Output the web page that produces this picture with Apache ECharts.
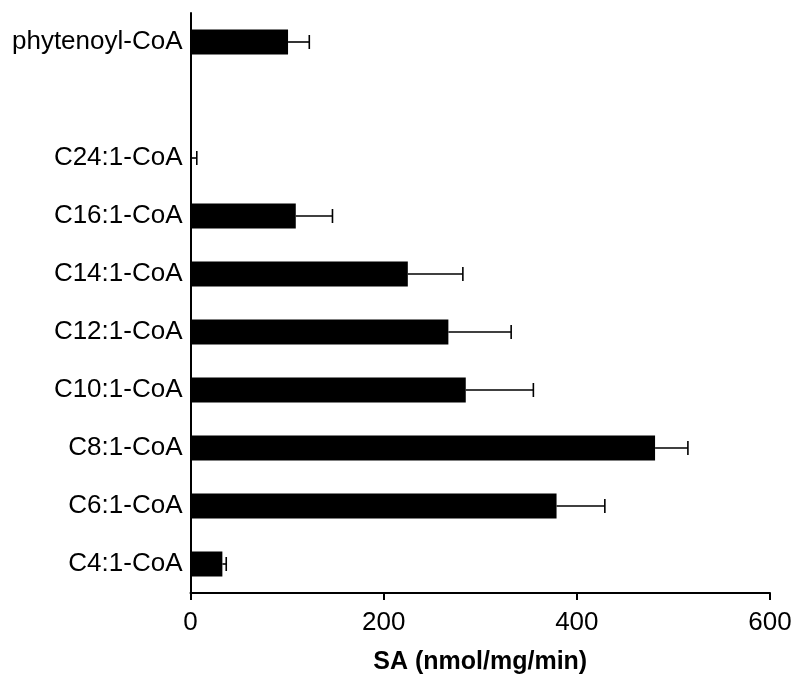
<!DOCTYPE html>
<html>
<head>
<meta charset="utf-8">
<script src="https://cdn.jsdelivr.net/npm/echarts@6/dist/echarts.min.js"></script>
<style>
  html, body { margin: 0; padding: 0; background: #fff; }
  #chart { width: 791px; height: 678px; }
</style>
</head>
<body>
<div id="chart"></div>
<script>
// Substrates, bottom to top; the empty entry leaves a gap below phytenoyl-CoA
const categories = ['C4:1-CoA', 'C6:1-CoA', 'C8:1-CoA', 'C10:1-CoA', 'C12:1-CoA',
                    'C14:1-CoA', 'C16:1-CoA', 'C24:1-CoA', '', 'phytenoyl-CoA'];
// Specific activity (nmol/mg/min) and its standard deviation
const activity = [33, 379, 481, 285, 267, 225, 109, 1, null, 101];
const deviation = [4, 50, 34, 70, 65, 57, 38, 5.5, null, 22];
const xTicks = [0, 200, 400, 600];

const FONT = 'Liberation Sans, Arial, sans-serif';

const errorData = [];
categories.forEach((c, i) => {
  if (activity[i] != null) errorData.push([i, activity[i], deviation[i]]);
});

const chart = echarts.init(document.getElementById('chart'), null, { renderer: 'canvas' });

chart.setOption({
  animation: false,
  backgroundColor: '#ffffff',
  grid: {
    left: 190.5, right: 21, top: 13, bottom: 85,
    containLabel: false,
    outerBoundsMode: 'none'
  },
  xAxis: {
    type: 'value',
    min: xTicks[0],
    max: xTicks[xTicks.length - 1],
    interval: xTicks[1] - xTicks[0],
    name: 'SA (nmol/mg/min)',
    nameLocation: 'middle',
    nameGap: 57,
    nameTextStyle: { fontFamily: FONT, fontSize: 25, fontWeight: 'bold', color: '#000' },
    axisLine: { show: true, lineStyle: { color: '#000', width: 2 } },
    axisTick: { show: true, length: 7, lineStyle: { color: '#000', width: 2 } },
    axisLabel: { fontFamily: FONT, fontSize: 26, color: '#000', margin: 17 },
    splitLine: { show: false }
  },
  yAxis: {
    type: 'category',
    data: categories,
    axisLine: { show: true, lineStyle: { color: '#000', width: 2 } },
    axisTick: { show: false },
    axisLabel: {
      interval: 0, fontFamily: FONT, fontSize: 26, color: '#000', margin: 8,
      padding: [0, 0, 7, 0]
    },
    splitLine: { show: false }
  },
  series: [
    {
      type: 'bar',
      data: activity,
      barWidth: 25,
      itemStyle: { color: '#000' },
      z: 2
    },
    {
      type: 'custom',
      data: errorData,
      encode: { x: [1, 2], y: 0 },
      z: 3,
      renderItem: function (params, api) {
        const cat = api.value(0);
        const v = api.value(1);
        const e = api.value(2);
        const start = api.coord([v, cat]);
        const end = api.coord([v + e, cat]);
        const half = 7;
        const style = { stroke: '#000', lineWidth: 1.6 };
        return {
          type: 'group',
          children: [
            { type: 'line', shape: { x1: start[0], y1: start[1], x2: end[0], y2: end[1] }, style: style },
            { type: 'line', shape: { x1: end[0], y1: end[1] - half, x2: end[0], y2: end[1] + half }, style: style }
          ]
        };
      }
    }
  ]
});
</script>
</body>
</html>
